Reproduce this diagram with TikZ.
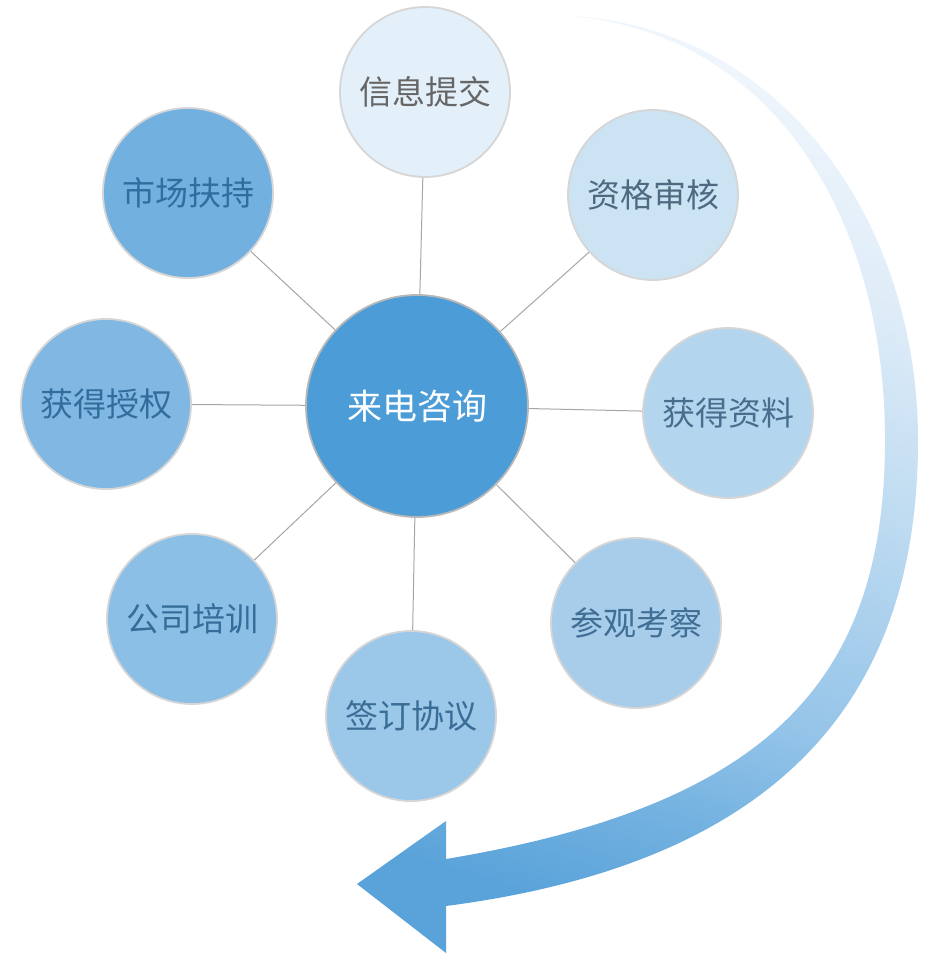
\documentclass[tikz,border=0pt]{standalone}
\usepackage{fontspec}
\newfontfamily\cjk{Noto Sans CJK SC}
\definecolor{bordergray}{HTML}{D6D6D6}
\definecolor{hubborder}{HTML}{B8B8B8}
\definecolor{linegray}{HTML}{A6A6A6}
\definecolor{c0}{HTML}{4B9CD7}
\definecolor{c1}{HTML}{E3EFF9}
\definecolor{c2}{HTML}{CCE3F4}
\definecolor{c3}{HTML}{B4D5EE}
\definecolor{c4}{HTML}{A7CDEB}
\definecolor{c5}{HTML}{9BC7E9}
\definecolor{c6}{HTML}{8CBFE6}
\definecolor{c7}{HTML}{80B8E3}
\definecolor{c8}{HTML}{72B0DF}
\definecolor{t1}{HTML}{666666}
\definecolor{t2}{HTML}{4E6A80}
\definecolor{t3}{HTML}{486E8E}
\definecolor{t4}{HTML}{406E94}
\definecolor{t5}{HTML}{3A6D96}
\definecolor{t6}{HTML}{356D9A}
\definecolor{t7}{HTML}{316E9D}
\definecolor{t8}{HTML}{2F6E9F}
\pgfdeclareverticalshading{arrowshade}{100bp}{rgb(0bp)=(0.353,0.639,0.855); rgb(25bp)=(0.353,0.639,0.855); rgb(31.6bp)=(0.447,0.694,0.878); rgb(38.5bp)=(0.576,0.765,0.910); rgb(52.4bp)=(0.745,0.859,0.945); rgb(64bp)=(0.870,0.925,0.972); rgb(75bp)=(0.935,0.962,0.988); rgb(100bp)=(0.95,0.97,0.99)}
\begin{document}
\begin{tikzpicture}[x=1pt,y=-1pt,
  bubble/.style={circle, minimum size=170pt, inner sep=0pt, draw=bordergray, line width=1.8pt,
    font=\cjk\fontsize{33}{36}\selectfont},
  hubstyle/.style={circle, minimum size=222pt, inner sep=0pt, draw=hubborder, line width=1.8pt,
    fill=c0, text=white, font=\cjk\fontsize{35}{38}\selectfont},
  link/.style={draw=linegray, line width=1pt}]
\useasboundingbox (0,0) rectangle (940,960);
\fill[white] (0,0) rectangle (940,960);

% curved arrow
\shade[shading=arrowshade, shading angle=-17]
  (572,16) .. controls (790,30) and (918,230) .. (918,440)
  .. controls (918,680) and (800,860) .. (446,906)
  -- (446,953) -- (357,884) -- (446,821) -- (446,859)
  .. controls (770,805) and (885,680) .. (885,440)
  .. controls (885,220) and (775,35) .. (572,16) -- cycle;

% nodes
\node[hubstyle] (hub) at (417,406) {来电咨询};
\node[bubble, fill=c1, text=t1] (n1) at (425,92) {信息提交};
\node[bubble, fill=c2, text=t2] (n2) at (653,195) {资格审核};
\node[bubble, fill=c3, text=t3] (n3) at (728,413) {获得资料};
\node[bubble, fill=c4, text=t4] (n4) at (636,623) {参观考察};
\node[bubble, fill=c5, text=t5] (n5) at (411,716) {签订协议};
\node[bubble, fill=c6, text=t6] (n6) at (192,619) {公司培训};
\node[bubble, fill=c7, text=t7] (n7) at (106,404) {获得授权};
\node[bubble, fill=c8, text=t8] (n8) at (188,193) {市场扶持};

% connectors
\foreach \n in {n1,n2,n3,n4,n5,n6,n7,n8}
  \draw[link] (hub) -- (\n);
\end{tikzpicture}
\end{document}
